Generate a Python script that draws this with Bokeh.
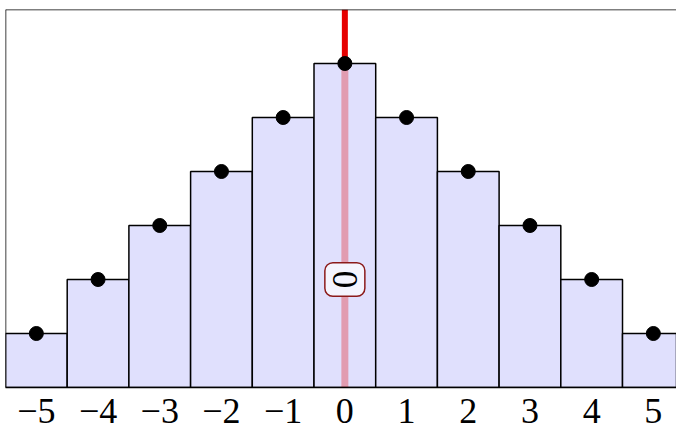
from math import pi
from bokeh.plotting import figure
from bokeh.models import ColumnDataSource, Span, Range1d, FixedTicker
from bokeh.core.properties import value
from bokeh.embed import file_html
from bokeh.resources import INLINE

xs = [-5, -4, -3, -2, -1, 0, 1, 2, 3, 4, 5]
heights = [1, 2, 3, 4, 5, 6, 5, 4, 3, 2, 1]
tick_labels = ["−5", "−4", "−3", "−2", "−1", "0", "1", "2", "3", "4", "5"]
peak_x = [0]
peak_y = [6]
top_y = [7]
label_x = [0]
label_y = [2]
label_text = ["0"]

p = figure(width=676, height=432, output_backend="svg", toolbar_location=None,
           x_range=Range1d(-5.5, 5.375), y_range=Range1d(0, 7),
           min_border_left=5, min_border_right=0, min_border_top=9, min_border_bottom=45)
p.outline_line_color = None
p.background_fill_color = "white"
p.border_fill_color = "white"
p.grid.visible = False
p.yaxis.visible = False

src = ColumnDataSource(dict(x=xs, top=heights))
p.vbar(x="x", top="top", bottom=0, width=1, source=src,
       fill_color="#e0e0fd", line_color="black", line_width=1.5)

# frame top / left
p.add_layout(Span(location=7, dimension="width", line_color="black", line_width=1.5))
p.add_layout(Span(location=-5.5, dimension="height", line_color="black", line_width=1.5))

# pink translucent line from 0 to peak
psrc = ColumnDataSource(dict(x=peak_x, y=peak_y, t=top_y))
p.segment(x0="x", y0=0, x1="x", y1="y", source=psrc, line_color="#e60000",
          line_alpha=0.3, line_width=7)
# red line from peak to top
p.segment(x0="x", y0="y", x1="x", y1="t", source=psrc, line_color="#e60000",
          line_width=6)

p.scatter(x="x", y="top", source=src, size=14, color="black")

lsrc = ColumnDataSource(dict(x=label_x, y=label_y, t=label_text))
p.text(x="x", y="y", text="t", source=lsrc, angle=pi/2,
       text_font=value("Liberation Serif"), text_font_size="35px",
       text_align="center", text_baseline="middle", text_color="black",
       background_fill_color="#f4f4fe", border_line_color="#8b1a1a",
       border_line_width=1.5, border_radius=8, padding=8)

xa = p.xaxis[0]
xa.ticker = FixedTicker(ticks=xs)
xa.major_label_overrides = {x: s for x, s in zip(xs, tick_labels)}
xa.major_tick_line_color = None
xa.minor_tick_line_color = None
xa.axis_line_color = "black"
xa.axis_line_width = 1.5
xa.major_label_text_font = "Liberation Serif"
xa.major_label_text_font_size = "36px"
xa.major_label_text_color = "black"
xa.major_label_standoff = 5

open("out.html", "w").write(file_html(p, INLINE))
